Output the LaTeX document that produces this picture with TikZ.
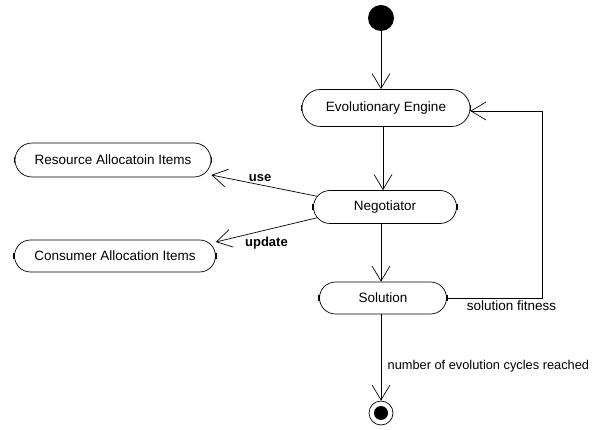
\documentclass[tikz,border=0pt]{standalone}
\usepackage{fontspec}
\setmainfont{Liberation Sans}
\usetikzlibrary{shapes.misc,arrows.meta}
\begin{document}
\begin{tikzpicture}[x=1pt, y=-1pt, line width=0.7pt, >={Straight Barb[length=15pt,width=18pt]},
  act node/.style={rounded rectangle,draw,minimum height=34pt,inner sep=0pt,font=\fontsize{13.5}{16}\selectfont},
  lbl/.style={font=\fontsize{13.5}{16}\selectfont},
  bold lbl/.style={font=\bfseries\fontsize{13}{15}\selectfont}]
\useasboundingbox (0,0) rectangle (597,430);
\begin{scope}
\node[circle,fill,minimum size=26pt,inner sep=0pt] (start) at (381,18) {};
\node[act node,minimum width=168pt,minimum height=37pt] (ee) at (386,108) {Evolutionary Engine};
\node[act node,minimum width=143pt,minimum height=33pt] (neg) at (385,207) {Negotiator};
\node[act node,minimum width=127pt,minimum height=32pt] (sol) at (383,298) {Solution};
\node[act node,minimum width=196pt] (res) at (113,160) {Resource Allocatoin Items};
\node[act node,minimum width=201pt,minimum height=32pt] (cons) at (115,256) {Consumer Allocation Items};
\node[circle,draw,minimum size=24pt,inner sep=0pt] (end) at (381,413) {};
\fill (end) circle (7pt);
\coordinate (fb) at (542,298);
\end{scope}
% little bars on the ends of the activities
\foreach \n in {ee,neg,sol,res,cons}{
  \draw[line width=1.6pt] ([yshift=-3pt]\n.west) -- ([yshift=3pt]\n.west);
  \draw[line width=1.6pt] ([yshift=-3pt]\n.east) -- ([yshift=3pt]\n.east);
}
\begin{scope}
\draw[->] (start.south) -- (start.south |- ee.north);
\draw[->] (ee.south -| 383,0) -- (neg.north -| 383,0);
\draw[->] (neg.south -| 381,0) -- (sol.north -| 381,0);
\draw[->] (neg.171) -- node[bold lbl,above,xshift=-4pt]{use} ([yshift=-15pt]res.east);
\draw[->] (neg.189) -- node[bold lbl,below,yshift=-4pt]{update} ([yshift=14pt]cons.east);
\draw[->] (sol.east) -- (fb) node[lbl,pos=0.68,below,yshift=1pt]{solution fitness} |- ([yshift=-3pt]ee.east);
\draw[->] (sol.south -| 381,0) -- node[right,pos=0.6,xshift=3pt,font=\fontsize{12.8}{15}\selectfont]{number of evolution cycles reached} (end.north);
\end{scope}
\end{tikzpicture}
\end{document}
